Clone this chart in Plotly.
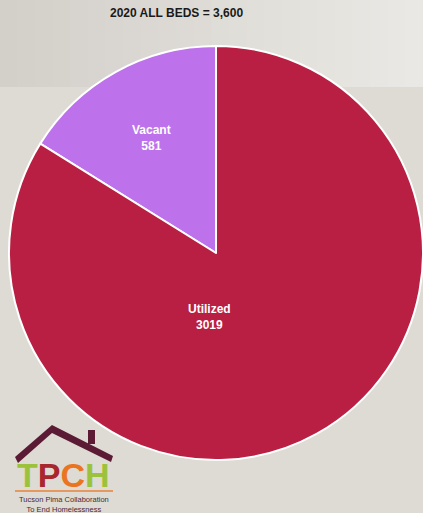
import plotly.graph_objects as go

# data
labels = ["Vacant", "Utilized"]
values = [581, 3019]
colors = ["#bd72ec", "#b91f42"]
title_text = "2020 ALL BEDS = 3,600"

W, H = 423, 513


def px(x):
    return x / W


def py(y):
    # pixel from top -> paper y
    return 1 - y / H


vacant_share = values[0] / sum(values)

fig = go.Figure(
    go.Pie(
        labels=labels,
        values=values,
        sort=False,
        direction="clockwise",
        rotation=-360 * vacant_share,
        marker=dict(colors=colors, line=dict(color="white", width=2)),
        textinfo="none",
        hoverinfo="label+value",
        showlegend=False,
        domain=dict(x=[9 / W, 1], y=[52 / H, 468 / H]),
    )
)

shapes = []
# slide header band, light gradient left -> right
n = 24
c0 = (211, 208, 202)
c1 = (234, 232, 228)
for i in range(n):
    t = i / (n - 1)
    c = tuple(round(a + (b - a) * t) for a, b in zip(c0, c1))
    shapes.append(
        dict(
            type="rect", xref="paper", yref="paper",
            x0=i / n, x1=(i + 1) / n + 0.002, y0=py(87), y1=1,
            fillcolor=f"rgb{c}", line=dict(width=0), layer="below",
        )
    )

# logo: roof and chimney
shapes.append(
    dict(
        type="path", xref="paper", yref="paper",
        path=(
            f"M {px(15)},{py(457)} L {px(52)},{py(425)} L {px(113)},{py(456)} "
            f"L {px(111)},{py(462)} L {px(52)},{py(433)} L {px(18)},{py(463)} Z"
        ),
        fillcolor="#5b1b35", line=dict(width=0),
    )
)
shapes.append(
    dict(
        type="rect", xref="paper", yref="paper",
        x0=px(88), x1=px(95), y0=py(444), y1=py(430),
        fillcolor="#5b1b35", line=dict(width=0),
    )
)
shapes.append(
    dict(
        type="line", xref="paper", yref="paper",
        x0=px(15), x1=px(113), y0=py(491), y1=py(491),
        line=dict(color="#e8823a", width=1.5),
    )
)


def note(text, x, y, size, color, family="Arial"):
    return dict(
        text=text, x=px(x), y=py(y), xref="paper", yref="paper",
        xanchor="center", yanchor="middle", showarrow=False,
        font=dict(size=size, color=color, family=family),
    )


annotations = [
    note(f"<b>{title_text}</b>", 176, 13, 12, "#1a1a1a"),
    note(f"<b>{labels[0]}<br>{values[0]}</b>", 151, 138, 12, "white"),
    note(f"<b>{labels[1]}<br>{values[1]}</b>", 209, 317, 12, "white"),
    note(
        "<b><span style='color:#9cc23c'>T</span>"
        "<span style='color:#a8262d'>P</span>"
        "<span style='color:#ea7420'>C</span>"
        "<span style='color:#9cc23c'>H</span></b>",
        63, 475, 34, "#9cc23c", "Liberation Sans Narrow, Arial Narrow, Arial",
    ),
    note("Tucson Pima Collaboration<br>To End Homelessness", 64, 504, 7.5, "#4a2a35"),
]

fig.update_layout(
    width=W,
    height=H,
    margin=dict(l=0, r=0, t=0, b=0),
    paper_bgcolor="#dedbd4",
    plot_bgcolor="#dedbd4",
    shapes=shapes,
    annotations=annotations,
)

fig.write_html(
    "out.html",
    config={"displayModeBar": False},
    post_script="document.body.style.margin='0';",
)
